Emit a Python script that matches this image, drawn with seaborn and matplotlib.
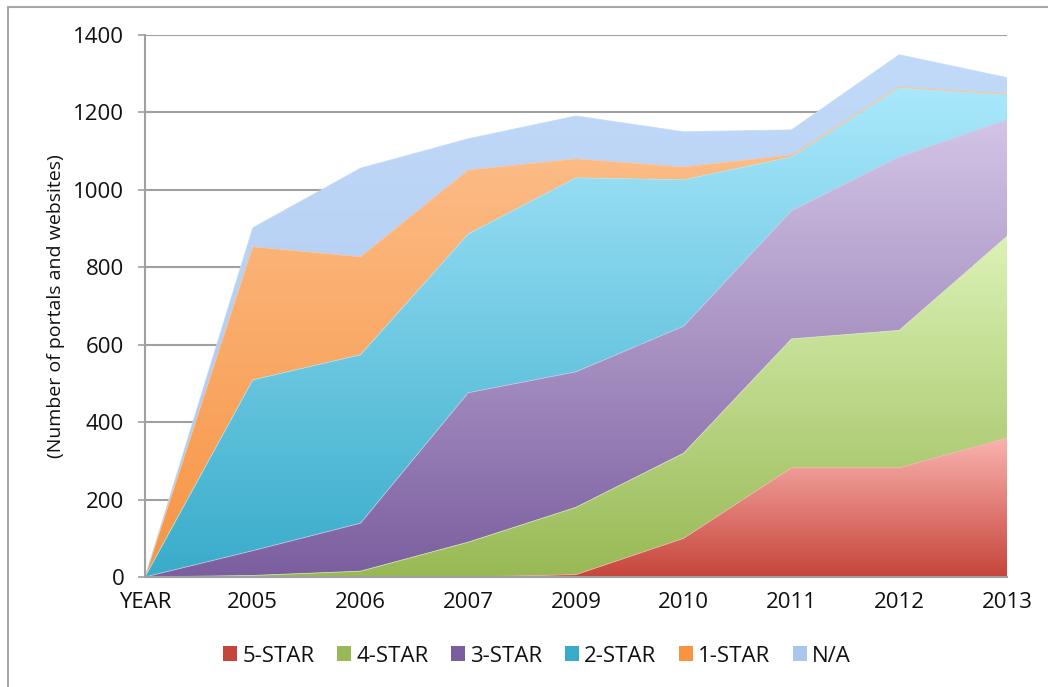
import numpy as np
import pandas as pd
import matplotlib
matplotlib.use("Agg")
import matplotlib.pyplot as plt
import seaborn as sns
from matplotlib.colors import LinearSegmentedColormap
from matplotlib.patches import Patch
from matplotlib.lines import Line2D

# ---- data ----
categories = ["YEAR", "2005", "2006", "2007", "2009", "2010", "2011", "2012", "2013"]
five_star  = [0, 0,   0,   0,   6,   100, 282, 282, 359]
four_star  = [0, 4,   15,  90,  174, 220, 333, 355, 521]
three_star = [0, 64,  124, 386, 350, 328, 331, 448, 301]
two_star   = [0, 441, 435, 410, 501, 378, 139, 178, 64]
one_star   = [0, 344, 253, 165, 49,  33,  5,   3,   3]
na_count   = [0, 49,  229, 81,  111, 91,  65,  83,  42]
series_names = ["5-STAR", "4-STAR", "3-STAR", "2-STAR", "1-STAR", "N/A"]
y_ticks = [0, 200, 400, 600, 800, 1000, 1200, 1400]

# gradient colours (top, bottom)
grad = {
    "5-STAR": ("#fab2ae", "#c6453b"),
    "4-STAR": ("#dcf2b6", "#98b955"),
    "3-STAR": ("#d3c5e6", "#7b5e9f"),
    "2-STAR": ("#aae8fc", "#38acca"),
    "1-STAR": ("#fdc291", "#f79443"),
    "N/A":    ("#c2daf9", "#a9c6ee"),
}

df = pd.DataFrame({"category": categories, "5-STAR": five_star, "4-STAR": four_star,
                   "3-STAR": three_star, "2-STAR": two_star, "1-STAR": one_star,
                   "N/A": na_count})

sns.set_theme(style="white")
plt.rcParams["font.family"] = ["Open Sans", "DejaVu Sans"]

fig = plt.figure(figsize=(10.48, 6.87), dpi=100)
ax = fig.add_axes([145/1048, 1-577/687, (1007-145)/1048, (577-35)/687])

x = np.arange(len(categories))
bottom = np.zeros(len(categories))
for name in series_names:
    vals = df[name].to_numpy(dtype=float)
    top = bottom + vals
    poly = ax.fill_between(x, bottom, top, color="none", linewidth=0, zorder=2)
    top_max = max(top.max(), 1)
    c_top, c_bot = grad[name]
    cmap = LinearSegmentedColormap.from_list(name, [c_bot, c_top])
    img = ax.imshow(np.linspace(0, 1, 256).reshape(-1, 1), cmap=cmap, aspect="auto",
                    origin="lower", extent=[x[0], x[-1], 0, top_max], zorder=2,
                    interpolation="bicubic")
    path = poly.get_paths()[0]
    img.set_clip_path(path, transform=ax.transData)
    sns.lineplot(x=x, y=top, ax=ax, color=c_top, linewidth=0.6, zorder=3,
                 legend=False, alpha=0.8)
    bottom = top

ax.set_xlim(0, len(categories) - 1)
ax.set_ylim(0, 1400)
ax.set_yticks(y_ticks)
ax.set_yticklabels([str(v) for v in y_ticks], fontsize=16, color="#111111")
ax.set_xticks(x)
ax.set_xticklabels(categories, fontsize=16, color="#111111")
ax.tick_params(axis="y", length=5, width=1.2, color="#a0a0a0", pad=10, left=True)
ax.tick_params(axis="x", length=0, pad=11)
ax.yaxis.grid(True, color="#a0a0a0", linewidth=1.5, zorder=0)
ax.set_axisbelow(True)
for s in ["top", "right"]:
    ax.spines[s].set_visible(False)
for s in ["left", "bottom"]:
    ax.spines[s].set_color("#a0a0a0")
    ax.spines[s].set_linewidth(1.5)
    ax.spines[s].set_zorder(4)
ax.set_ylabel("(Number of portals and websites)", fontsize=14, color="#111111", labelpad=6)

handles = []
for name in series_names:
    handles.append(Patch(facecolor=grad[name][1], edgecolor=grad[name][0], linewidth=0))
leg = fig.legend(handles, series_names, loc="center", bbox_to_anchor=(537/1048, 1-656/687),
                 ncol=6, frameon=False, fontsize=16, handlelength=0.63, handleheight=0.63,
                 handletextpad=0.25, columnspacing=1.0)
for t in leg.get_texts():
    t.set_color("#111111")

# outer chart frame (cropped at right/bottom in the reference)
fig.add_artist(Line2D([8/1048, 1], [1-7/687, 1-7/687], transform=fig.transFigure,
                      color="#a8a8a8", linewidth=1.5))
fig.add_artist(Line2D([8/1048, 8/1048], [0, 1-7/687], transform=fig.transFigure,
                      color="#a8a8a8", linewidth=1.5))

fig.savefig("out.png", dpi=100, facecolor="white")
